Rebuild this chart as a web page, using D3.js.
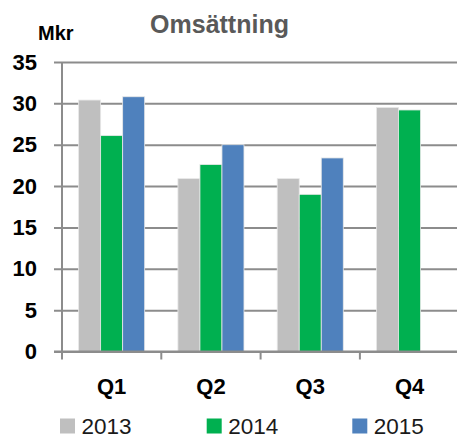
<!DOCTYPE html>
<html>
<head>
<meta charset="utf-8">
<script src="https://cdn.jsdelivr.net/npm/d3@7"></script>
<style>
  html, body { margin: 0; padding: 0; background: #fff; }
  svg { display: block; font-family: "Liberation Sans", Arial, sans-serif; }
</style>
</head>
<body>
<svg id="chart" width="457" height="436"></svg>
<script>
const categories = ["Q1", "Q2", "Q3", "Q4"];
const series = ["2013", "2014", "2015"];
const values2013 = [30.4, 20.9, 20.9, 29.5];
const values2014 = [26.1, 22.6, 19.0, 29.2];
const values2015 = [30.8, 25.0, 23.4, null];
const yTicks = [0, 5, 10, 15, 20, 25, 30, 35];
const colors = ["#BFBFBF", "#00B050", "#4F81BD"];
const title = "Omsättning";
const unit = "Mkr";

const seriesValues = [values2013, values2014, values2015];
const svg = d3.select("#chart");
const plotLeft = 62, plotTop = 62, plotBottom = 351.5, plotRight = 459.2;

const x0 = d3.scaleBand().domain(categories).range([plotLeft, plotRight]).padding(0);
const x1 = d3.scaleBand().domain(series).range([0, x0.bandwidth()]).paddingInner(0).paddingOuter(0.755);
const y = d3.scaleLinear().domain([0, 35]).range([plotBottom, plotTop]);

// Y axis with gridlines
const yAxis = svg.append("g")
  .attr("transform", `translate(${plotLeft},0)`)
  .call(d3.axisLeft(y).tickValues(yTicks).tickSizeInner(-(457 - plotLeft)).tickSizeOuter(0).tickPadding(25));
yAxis.select(".domain").remove();
yAxis.selectAll(".tick line").attr("x1", -8).attr("stroke", "#8c8c8c").attr("stroke-width", 2);
yAxis.selectAll(".tick text").attr("font-size", 22).attr("font-weight", "bold").attr("fill", "#000");

// vertical axis line
svg.append("line").attr("x1", plotLeft).attr("x2", plotLeft).attr("y1", y(35)).attr("y2", plotBottom + 7)
  .attr("stroke", "#8c8c8c").attr("stroke-width", 2);

// bars
const rows = categories.map((c, i) => ({ c, vals: series.map((s, j) => ({ s, j, v: seriesValues[j][i] })) }));
const groups = svg.append("g").selectAll("g").data(rows).join("g")
  .attr("transform", d => `translate(${x0(d.c)},0)`);
groups.selectAll("rect").data(d => d.vals.filter(e => e.v != null)).join("rect")
  .attr("x", d => x1(d.s))
  .attr("width", x1.bandwidth())
  .attr("y", d => y(d.v))
  .attr("height", d => y(0) - y(d.v))
  .attr("fill", d => colors[d.j])
  .attr("stroke", "#e8e8e8").attr("stroke-width", 0.8);

// zero line redraw
svg.append("line").attr("x1", plotLeft - 8).attr("x2", 457).attr("y1", plotBottom).attr("y2", plotBottom)
  .attr("stroke", "#8c8c8c").attr("stroke-width", 2);

// X axis
const xAxis = svg.append("g").attr("transform", `translate(0,${plotBottom})`)
  .call(d3.axisBottom(x0).tickSize(0).tickPadding(27));
xAxis.select(".domain").remove();
xAxis.selectAll(".tick text").attr("font-size", 22).attr("font-weight", "bold").attr("fill", "#000");
svg.append("g").selectAll("line").data(categories).join("line")
  .attr("x1", d => x0(d)).attr("x2", d => x0(d))
  .attr("y1", plotBottom).attr("y2", plotBottom + 8)
  .attr("stroke", "#8c8c8c").attr("stroke-width", 2);

// title and unit
svg.append("text").attr("x", 219.5).attr("y", 33).attr("text-anchor", "middle")
  .attr("font-size", 25).attr("font-weight", "bold").attr("fill", "#595959").text(title);
svg.append("text").attr("x", 38).attr("y", 40)
  .attr("font-size", 20).attr("font-weight", "bold").attr("fill", "#000").text(unit);

// legend
const legendX = [60, 206.7, 352.3];
const lg = svg.append("g").selectAll("g").data(series).join("g")
  .attr("transform", (d, i) => `translate(${legendX[i]},0)`);
lg.append("rect").attr("x", 0).attr("y", 418.5).attr("width", 15).attr("height", 15)
  .attr("fill", (d, i) => colors[i]);
lg.append("text").attr("x", 21.5).attr("y", 433.5).attr("font-size", 22.5).attr("fill", "#1a1a1a").text(d => d);
</script>
</body>
</html>
